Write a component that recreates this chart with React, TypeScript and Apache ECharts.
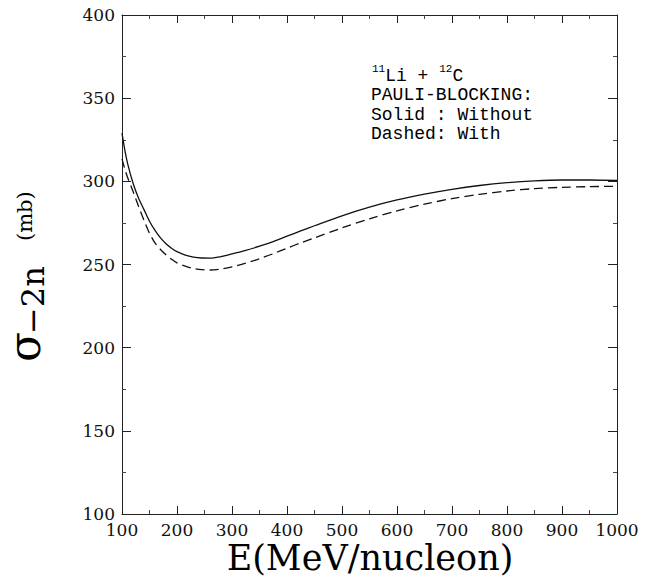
import React, { useEffect, useRef } from "react";
import * as echarts from "echarts";

// Energy grid (MeV/nucleon)
const energy = [100, 105, 110, 120, 130, 140, 150, 160, 170, 180, 190, 200, 215, 230, 245, 260, 280, 300, 325, 350, 375, 400, 425, 450, 500, 550, 600, 650, 700, 750, 800, 850, 900, 950, 1000];
// Solid: without Pauli blocking (mb)
const withoutPB = [329, 319, 311, 299, 290, 283, 276, 270.5, 266, 262.5, 259.8, 257.7, 255.7, 254.5, 253.9, 253.8, 254.8, 256.4, 258.5, 261, 263.8, 267, 270.2, 273.3, 279.3, 284.5, 288.8, 292.3, 295.2, 297.5, 299.2, 300.3, 300.8, 300.8, 300.5];
// Dashed: with Pauli blocking (mb)
const withPB = [313.5, 307.5, 302.5, 294, 285, 276.5, 268.8, 263, 259, 255.8, 253.2, 251, 249, 247.6, 246.9, 246.7, 247.3, 248.6, 250.8, 253.5, 256.5, 259.8, 263, 266, 272, 277.5, 282.3, 286.3, 289.6, 292.2, 294.2, 295.6, 296.4, 296.8, 297];

const xTicks = { min: 100, max: 1000, interval: 100 };
const yTicks = { min: 100, max: 400, interval: 50 };

const SERIF = "DejaVu Serif";
const MONO = "Liberation Mono";

export default function App() {
  const ref = useRef<HTMLDivElement>(null);
  useEffect(() => {
    document.body.style.margin = "0";
    if (!ref.current) return;
    const chart = echarts.init(ref.current, undefined, { renderer: "svg" });
    const axisLine = { show: true, lineStyle: { color: "#222", width: 1 } };
    const tick = (len: number) => ({ show: true, inside: true, length: len, lineStyle: { color: "#222", width: 1 } });
    const minor = { show: true, splitNumber: 2, length: 4, lineStyle: { color: "#444", width: 1 } };
    const label = { color: "#111", fontFamily: SERIF, fontSize: 17, formatter: (v: number) => String(v) };
    const txt = (text: string, x: number, y: number, size: number, extra: any = {}) => ({
      type: "text",
      x,
      y,
      rotation: extra.rotation || 0,
      style: {
        text,
        fill: "#000",
        fontFamily: extra.family || MONO,
        fontSize: size,
        fontWeight: extra.weight || "normal",
        align: extra.align || "left",
        textAlign: extra.align || "left",
        verticalAlign: "middle",
        textVerticalAlign: "middle",
        ...(extra.rich ? { rich: extra.rich } : {}),
      },
    });
    chart.setOption({
      animation: false,
      textStyle: { fontFamily: SERIF },
      grid: { left: 122, right: 37, top: 15, bottom: 63 },
      xAxis: [
        {
          type: "value", ...xTicks, position: "bottom",
          axisLine, axisTick: tick(8), minorTick: minor, splitLine: { show: false },
          axisLabel: { ...label, margin: 7 },
        },
        {
          type: "value", ...xTicks, position: "top",
          axisLine, axisTick: tick(8), minorTick: minor, splitLine: { show: false },
          axisLabel: { show: false },
        },
      ],
      yAxis: [
        {
          type: "value", ...yTicks, position: "left",
          axisLine, axisTick: tick(9), minorTick: minor, splitLine: { show: false },
          axisLabel: { ...label, margin: 7 },
        },
        {
          type: "value", ...yTicks, position: "right",
          axisLine, axisTick: tick(9), minorTick: minor, splitLine: { show: false },
          axisLabel: { show: false },
        },
      ],
      series: [
        {
          name: "Without", type: "line", xAxisIndex: 0, yAxisIndex: 0,
          data: energy.map((e, i) => [e, withoutPB[i]]),
          showSymbol: false, symbol: "none", smooth: 0.3,
          lineStyle: { color: "#111", width: 1.3 },
        },
        {
          name: "With", type: "line", xAxisIndex: 0, yAxisIndex: 0,
          data: energy.map((e, i) => [e, withPB[i]]),
          showSymbol: false, symbol: "none", smooth: 0.3,
          lineStyle: { color: "#111", width: 1.3, type: [9, 5] },
        },
      ],
      graphic: [
        txt("{s|11}{t|Li + }{s|12}{t|C}", 372, 74, 18, {
          rich: {
            s: { fontFamily: MONO, fontSize: 11, verticalAlign: "top", fill: "#000", lineHeight: 12 },
            t: { fontFamily: MONO, fontSize: 18, verticalAlign: "bottom", fill: "#000", lineHeight: 22 },
          },
        }),
        txt("PAULI-BLOCKING:", 371, 95, 18),
        txt("Solid : Without", 371, 114.5, 18),
        txt("Dashed: With", 371, 134, 18),
        txt("E(MeV/nucleon)", 370, 558, 35, { family: SERIF, align: "center" }),
        txt("σ", 24, 362, 44, { family: SERIF, rotation: Math.PI / 2 }),
        txt("−2n", 33, 334, 32, { family: SERIF, rotation: Math.PI / 2 }),
        txt("(mb)", 25, 241, 21, { family: SERIF, rotation: Math.PI / 2 }),
      ],
    });
    return () => chart.dispose();
  }, []);
  return <div ref={ref} style={{ width: 654, height: 577 }} />;
}
